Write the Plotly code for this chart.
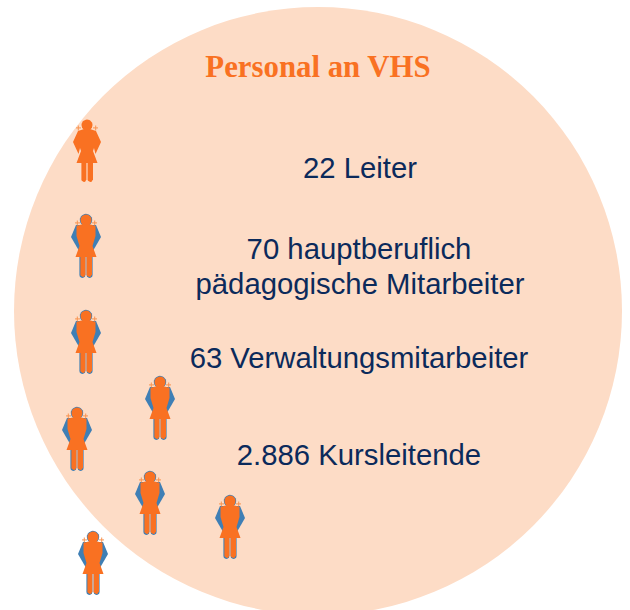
import math
import plotly.graph_objects as go

title = "Personal an VHS"
staff_lines = ["22 Leiter", "70 hauptberuflich", "pädagogische Mitarbeiter",
               "63 Verwaltungsmitarbeiter", "2.886 Kursleitende"]
label_x = [360, 359, 360, 359, 359]
label_y = [171, 252, 287, 361, 458]
icon_x = [87, 86, 86, 160, 77, 150, 230, 93]
icon_y = [151, 246, 342, 408, 439, 503, 527, 563]
icon_blue = [False, True, True, True, True, True, True, True]

ORANGE = "#F97122"
BLUE = "#3F7FB5"
PEACH = "#FDDCC6"
RIBBON = "#F9934F"
NAVY = "#0B2A5B"


def disc(cx, cy, r, n=28):
    pts = [(cx + r * math.cos(2 * math.pi * i / n), cy + r * math.sin(2 * math.pi * i / n)) for i in range(n)]
    return pts + [pts[0]]


def leg(x0, x1, top, bot):
    r = (x1 - x0) / 2
    pts = [(x0, top), (x1, top), (x1, bot - r)]
    for i in range(1, 6):
        a = math.pi * i / 6
        pts.append(((x0 + x1) / 2 + r * math.cos(a), bot - r + r * math.sin(a)))
    pts += [(x0, bot - r), (x0, top)]
    return pts


def rect(x0, x1, y0, y1):
    return [(x0, y0), (x1, y0), (x1, y1), (x0, y1), (x0, y0)]


BODY_PLAIN = [(-3, -22), (3, -22), (9, -20), (14, -9), (8.5, 3), (7, -3), (6, 0), (10.5, 12), (-10.5, 12), (-6, 0), (-7, -3), (-8.5, 3), (-14, -9), (-9, -20), (-3, -22)]
BODY_FRONT = [(-3, -22), (3, -22), (9.5, -20), (9.5, -10), (6.5, 0), (10.5, 11), (-10.5, 11), (-6.5, 0), (-9.5, -10), (-9.5, -20), (-3, -22)]
DIAMOND = [(-10, -21), (10, -21), (15, -9), (7.5, 4), (-7.5, 4), (-15, -9), (-10, -21)]
RIBBONS = [rect(-11, -6, -23.6, -22.6), rect(-9.2, -8.2, -25.5, -20.5),
           rect(6, 11, -23.6, -22.6), rect(8.2, 9.2, -25.5, -20.5)]


def add_poly(fig, pts, cx, cy, color):
    fig.add_trace(go.Scatter(
        x=[cx + p[0] for p in pts], y=[cy + p[1] for p in pts],
        mode="lines", fill="toself", fillcolor=color, line=dict(color=color, width=0),
        hoverinfo="skip", showlegend=False))


fig = go.Figure()
for cx, cy, blue in zip(icon_x, icon_y, icon_blue):
    if blue:
        add_poly(fig, DIAMOND, cx, cy, BLUE)
        add_poly(fig, disc(0, -26, 6.2), cx, cy, BLUE)
        add_poly(fig, leg(-6.6, -0.6, 8, 32), cx, cy, BLUE)
        add_poly(fig, leg(0.6, 6.6, 8, 32), cx, cy, BLUE)
    for r in RIBBONS:
        add_poly(fig, r, cx, cy, RIBBON)
    add_poly(fig, disc(0, -26, 5.5), cx, cy, ORANGE)
    add_poly(fig, BODY_FRONT if blue else BODY_PLAIN, cx, cy, ORANGE)
    add_poly(fig, leg(-5.6, -0.6, 10, 31), cx, cy, ORANGE)
    add_poly(fig, leg(0.6, 6.0, 10, 31), cx, cy, ORANGE)

fig.add_trace(go.Scatter(
    x=label_x, y=label_y, text=staff_lines, mode="text", textposition="middle center",
    textfont=dict(family="Liberation Sans", size=29.3, color=NAVY),
    hoverinfo="skip", showlegend=False))
fig.add_trace(go.Scatter(
    x=[318], y=[69], text=[f"<b>{title}</b>"], mode="text", textposition="middle center",
    textfont=dict(family="Liberation Serif", size=30.8, color=ORANGE),
    hoverinfo="skip", showlegend=False))

fig.update_layout(
    width=630, height=610, autosize=False,
    margin=dict(l=0, r=0, t=0, b=0),
    paper_bgcolor="white", plot_bgcolor="white",
    xaxis=dict(range=[0, 630], visible=False, fixedrange=True),
    yaxis=dict(range=[610, 0], visible=False, fixedrange=True),
    shapes=[dict(type="circle", xref="x", yref="y", x0=14, x1=622, y0=7, y1=615,
                 fillcolor=PEACH, line=dict(width=0), layer="below")],
)
fig.write_html("out.html", config={"displayModeBar": False},
               post_script="document.body.style.margin='0';document.body.style.overflow='hidden';")
